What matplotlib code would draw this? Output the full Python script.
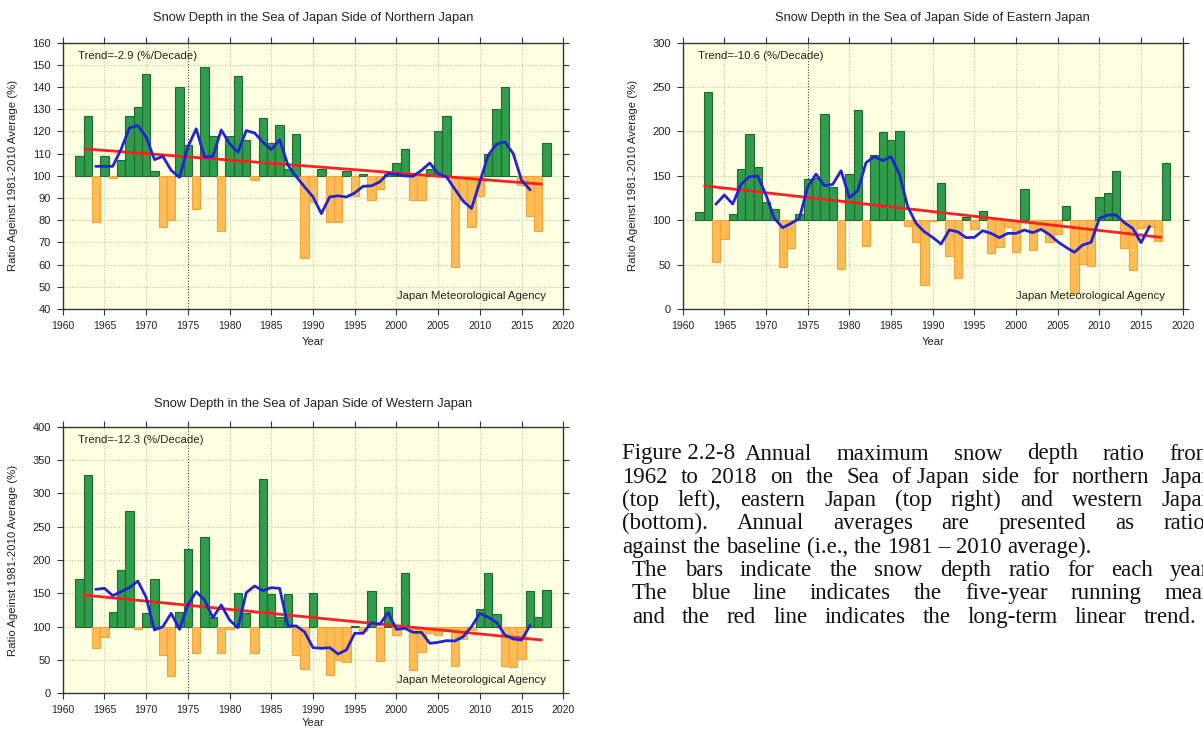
import matplotlib
matplotlib.use("Agg")
import matplotlib.pyplot as plt
from matplotlib.transforms import IdentityTransform

# ---------------- data ----------------
years = list(range(1962, 2019))
mean_years = list(range(1964, 2017))

north_ratio = [109, 127, 79, 109, 99, 107, 127, 131, 146, 102,
               77, 80, 140, 114, 85, 149, 118, 75, 118, 145,
               116, 98, 126, 115, 123, 103, 119, 63, 88, 103,
               79, 79, 102, 91, 101, 89, 94, 101, 106, 112,
               89, 89, 103, 120, 127, 59, 89, 77, 91, 110,
               130, 140, 100, 96, 82, 75, 115]
north_mean5 = [104.3, 104.3, 104.3, 112.0, 121.6, 122.7, 117.5, 107.3, 108.8, 102.5,
               99.3, 113.0, 121.2, 108.5, 108.8, 120.7, 114.5, 110.7, 120.4, 119.3,
               115.2, 111.8, 116.3, 104.8, 99.6, 95.0, 90.5, 83.0, 90.5, 91.0,
               90.5, 92.3, 95.3, 95.5, 97.3, 101.0, 100.7, 100.0, 99.8, 102.5,
               105.8, 101.0, 99.5, 94.0, 88.6, 85.3, 97.3, 109.3, 114.3, 115.3,
               110.0, 98.0, 93.8]
north_trend = -2.9          # %/decade
north_trend_start = 112.2   # value at the start of the trend line

east_ratio = [109, 244, 53, 79, 107, 158, 197, 160, 121, 113,
              47, 69, 107, 146, 148, 220, 137, 45, 152, 224,
              71, 174, 199, 190, 201, 93, 75, 27, 99, 142,
              60, 35, 104, 90, 110, 63, 70, 92, 64, 135,
              66, 90, 75, 84, 116, 18, 51, 49, 126, 131,
              155, 69, 44, 91, 92, 77, 164]
east_mean5 = [118.3, 128.4, 118.3, 140.4, 149.0, 149.8, 128.4, 102.0, 91.6, 96.5,
              102.0, 137.8, 152.0, 139.0, 140.4, 155.8, 125.4, 133.3, 164.9, 171.6,
              167.1, 171.6, 152.0, 115.3, 96.5, 87.0, 80.7, 73.2, 89.0, 87.0,
              80.4, 80.7, 88.2, 85.2, 80.4, 85.2, 85.2, 89.0, 86.0, 89.7,
              84.0, 75.8, 69.5, 63.9, 72.1, 75.1, 102.0, 105.9, 105.9, 97.3,
              90.9, 74.7, 92.7]
east_trend = -10.6
east_trend_start = 138.9

west_ratio = [172, 327, 68, 85, 122, 185, 273, 97, 121, 171,
              58, 26, 122, 217, 61, 235, 115, 60, 96, 150,
              121, 61, 321, 149, 114, 149, 58, 37, 151, 68,
              28, 50, 47, 101, 93, 153, 48, 129, 88, 181,
              35, 62, 90, 87, 97, 41, 81, 95, 127, 181,
              119, 41, 39, 51, 154, 114, 155]
west_mean5 = [156.0, 157.5, 146.5, 152.5, 158.5, 168.5, 144.0, 95.0, 100.0, 120.0,
              96.0, 132.5, 152.5, 140.0, 113.5, 132.5, 110.0, 98.5, 151.0, 161.0,
              154.0, 158.5, 157.5, 101.0, 101.0, 92.0, 68.5, 67.5, 68.5, 59.0,
              65.0, 90.0, 90.0, 106.0, 103.5, 121.0, 96.0, 97.5, 91.5, 91.5,
              75.0, 76.5, 79.0, 78.5, 85.0, 100.0, 120.0, 114.0, 106.5, 87.5,
              81.5, 80.0, 101.5]
west_trend = -12.3
west_trend_start = 147.5

trend_span = (1962.5, 2017.5)
baseline = 100

titles = ["Snow Depth in the Sea of Japan Side of Northern Japan",
          "Snow Depth in the Sea of Japan Side of Eastern Japan",
          "Snow Depth in the Sea of Japan Side of Western Japan"]
ylabel = "Ratio Ageinst 1981-2010 Average (%)"
credit = "Japan Meteorological Agency"

# ---------------- figure ----------------
W, H, DPI = 1203, 731, 100
fig = plt.figure(figsize=(W / DPI, H / DPI), dpi=DPI)
fig.patch.set_facecolor("white")

SANS = ["Liberation Sans", "DejaVu Sans"]
SERIF = ["Liberation Serif", "DejaVu Serif"]

GREEN, GREEN_EDGE = "#2f9d4b", "#1c6a2f"
ORANGE, ORANGE_EDGE = "#ffbc55", "#f2a23a"
BLUE, RED = "#2222d6", "#ff2020"
BG = "#ffffe2"
GRID = "#c4c4b0"


def rect(left, top, right, bottom):
    return [left / W, 1 - bottom / H, (right - left) / W, (bottom - top) / H]


def panel(box, title, title_y, ratio, mean5, trend, trend_start, ylim, ystep,
          xlabel_y):
    ax = fig.add_axes(rect(*box))
    ax.set_facecolor(BG)
    ax.set_xlim(1960, 2020)
    ax.set_ylim(*ylim)

    xt = list(range(1960, 2021, 5))
    yt = list(range(ylim[0], ylim[1] + 1, ystep))
    ax.set_xticks(xt)
    ax.set_yticks(yt)

    # dotted grid
    for y in yt[1:-1]:
        ax.axhline(y, color=GRID, lw=0.8, ls=(0, (1, 1.5)), zorder=0.5)
    for x in xt[1:-1]:
        col = "#444444" if x == 1975 else GRID
        ax.axvline(x, color=col, lw=0.8, ls=(0, (1, 1.5)), zorder=0.5)

    heights = [v - baseline for v in ratio]
    faces = [GREEN if h >= 0 else ORANGE for h in heights]
    edges = [GREEN_EDGE if h >= 0 else ORANGE_EDGE for h in heights]
    ax.bar(years, heights, bottom=baseline, width=1.0, color=faces,
           edgecolor=edges, linewidth=0.8, zorder=2)

    t0, t1 = trend_span
    slope = trend / 10.0
    ax.plot([t0, t1], [trend_start, trend_start + slope * (t1 - t0)],
            color=RED, lw=2.0, zorder=3, solid_capstyle="butt")
    ax.plot(mean_years, mean5, color=BLUE, lw=2.0, zorder=4)

    for s in ax.spines.values():
        s.set_color("#333333")
        s.set_linewidth(1.0)
    ax.tick_params(which="both", direction="out", length=4, width=0.8,
                   color="#333333", top=True, right=True)
    ax.tick_params(axis="x", labelsize=7.5, pad=4.5)
    ax.tick_params(axis="y", labelsize=8, pad=4.5)
    for lab in ax.get_xticklabels() + ax.get_yticklabels():
        lab.set_family(SANS)
        lab.set_color("#222222")

    ax.set_ylabel(ylabel, family=SANS, fontsize=8.2, color="#222222")
    ax.yaxis.set_label_coords(-0.089, 0.5)

    cx = (box[0] + box[2]) / 2
    fig.text(cx / W, 1 - xlabel_y / H, "Year", ha="center", va="center",
             family=SANS, fontsize=8, color="#222222")

    ax.text(0.03, 0.95, f"Trend={trend} (%/Decade)", transform=ax.transAxes,
            ha="left", va="center", family=SANS, fontsize=8.2, color="#222222")
    ax.text(0.965, 0.05, credit, transform=ax.transAxes, ha="right",
            va="center", family=SANS, fontsize=8.2, color="#222222")

    fig.text(cx / W, 1 - title_y / H, title, ha="center", va="center",
             family=SANS, fontsize=9.3, color="#222222")
    return ax


panel((62.7, 42.7, 563.3, 309.0), titles[0], 18, north_ratio, north_mean5,
      north_trend, north_trend_start, (40, 160), 10, 342)
panel((682.7, 42.7, 1182.7, 309.0), titles[1], 18, east_ratio, east_mean5,
      east_trend, east_trend_start, (0, 300), 50, 342)
panel((62.7, 426.7, 563.3, 693.3), titles[2], 404, west_ratio, west_mean5,
      west_trend, west_trend_start, (0, 400), 50, 723)

# ---------------- caption ----------------
renderer = fig.canvas.get_renderer()
CAP_SIZE = 16.5
ident = IdentityTransform()


def text_width(s):
    t = fig.text(0, 0, s, transform=ident, family=SERIF, fontsize=CAP_SIZE)
    w = t.get_window_extent(renderer).width
    t.remove()
    return w


def caption_line(words, x0, baseline_y, x1=None):
    """Place words on one line; spread them to end at x1 when given."""
    items = []
    for w in words:
        t = fig.text(0, H - baseline_y, w, transform=ident, ha="left",
                     va="baseline", family=SERIF, fontsize=CAP_SIZE,
                     color="#111111")
        items.append((t, t.get_window_extent(renderer).width))
    total = sum(wd for _, wd in items)
    if x1 is not None and len(items) > 1:
        gap = (x1 - x0 - total) / (len(items) - 1)
    else:
        gap = text_width("a a") - text_width("aa")
    x = x0
    for t, wd in items:
        t.set_position((x, H - baseline_y))
        x += wd + gap


R = 1214
y0, dy = 459.5, 23.3
caption_line(["Figure 2.2-8"], 622, y0)
caption_line("Annual maximum snow depth ratio from".split(), 745, y0, R)
caption_line(["1962", "to", "2018", "on", "the", "Sea", "of Japan", "side",
              "for", "northern", "Japan"], 622, y0 + dy, R)
caption_line("(top left), eastern Japan (top right) and western Japan".split(),
             622, y0 + 2 * dy, R)
caption_line("(bottom). Annual averages are presented as ratios".split(),
             622, y0 + 3 * dy, R)
caption_line("against the baseline (i.e., the 1981 \u2013 2010 average).".split(),
             622, y0 + 4 * dy)
caption_line("The bars indicate the snow depth ratio for each year.".split(),
             632, y0 + 5 * dy, R)
caption_line("The blue line indicates the five-year running mean".split(),
             632, y0 + 6 * dy, R)
caption_line("and the red line indicates the long-term linear trend.".split(),
             632, y0 + 7 * dy, 1196)

fig.savefig("out.png", dpi=DPI, facecolor="white")
